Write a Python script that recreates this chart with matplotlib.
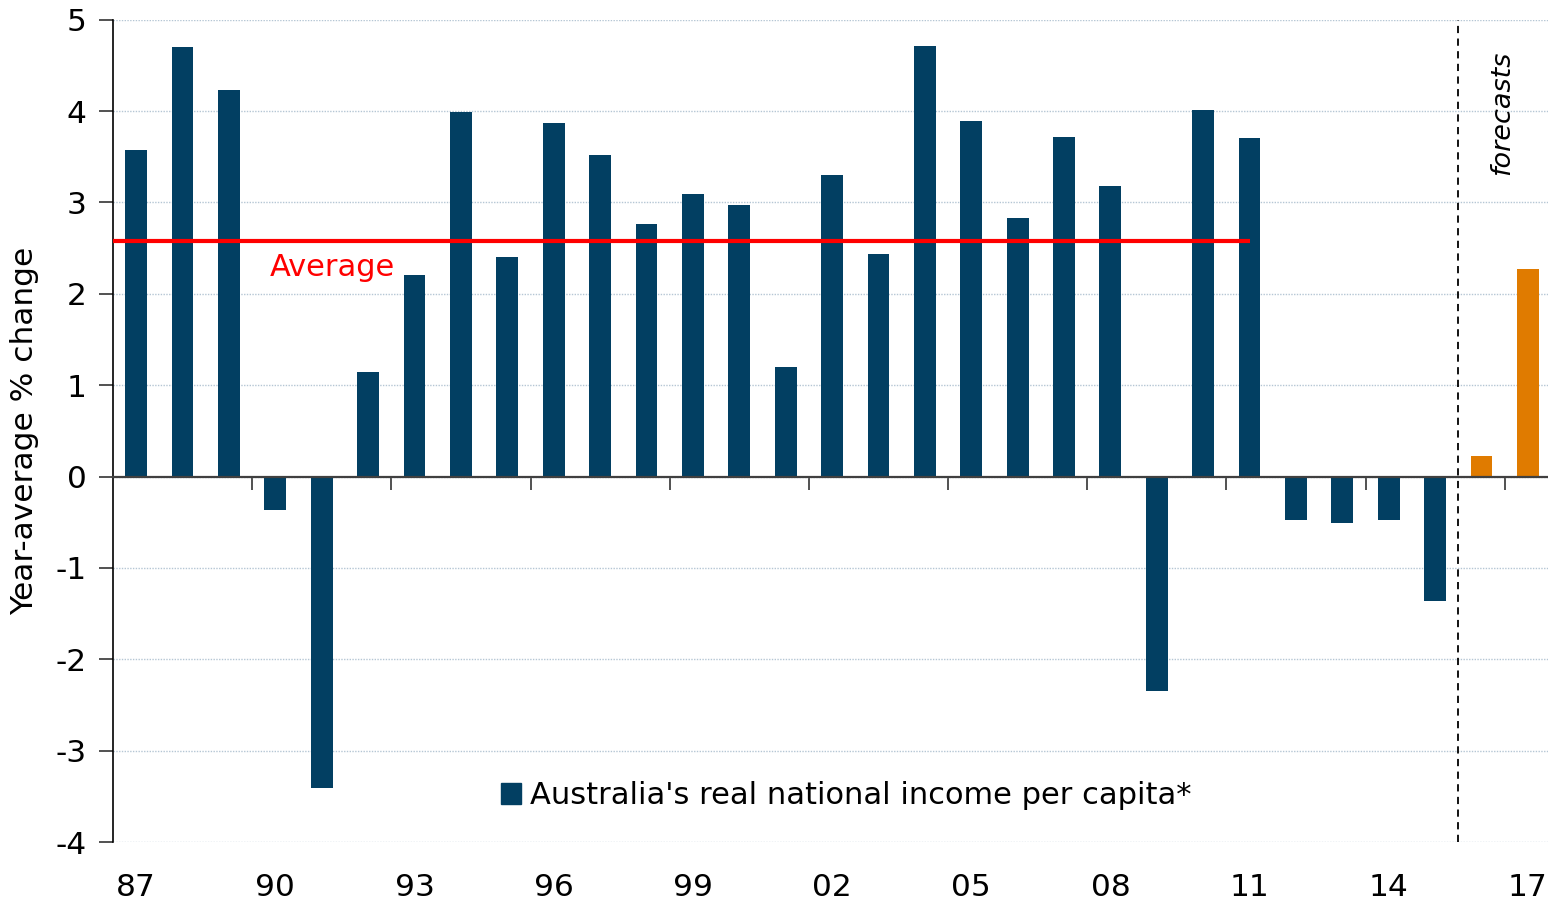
import matplotlib
matplotlib.use("Agg")
import matplotlib.pyplot as plt
import numpy as np
from matplotlib.patches import Patch

years = ["87", "88", "89", "90", "91", "92", "93", "94", "95", "96", "97", "98", "99", "00",
         "01", "02", "03", "04", "05", "06", "07", "08", "09", "10", "11", "12", "13", "14",
         "15", "16", "17"]
values = [3.58, 4.70, 4.23, -0.37, -3.41, 1.14, 2.21, 3.99, 2.40, 3.87, 3.52, 2.76, 3.09, 2.97,
          1.20, 3.30, 2.44, 4.71, 3.89, 2.83, 3.72, 3.18, -2.35, 4.01, 3.71, -0.47, -0.51, -0.48,
          -1.36, 0.23, 2.27]
is_forecast = [False] * 29 + [True, True]
average_value = 2.58
average_end_year = "11"
tick_label_years = ["87", "90", "93", "96", "99", "02", "05", "08", "11", "14", "17"]
y_ticks = [-4, -3, -2, -1, 0, 1, 2, 3, 4, 5]

NAVY = "#023F62"
ORANGE = "#E07B00"

plt.rcParams['font.family'] = ['DejaVu Sans']
fig = plt.figure(figsize=(15.48, 8.99), dpi=100)
ax = fig.add_axes([0.073, 0.0634, 0.929, 0.9146])

x = np.arange(len(years))
colors = [ORANGE if f else NAVY for f in is_forecast]
ax.bar(x, values, width=0.47, color=colors, zorder=3)

ax.set_xlim(-0.5, len(years) - 0.5)
ax.set_ylim(-4, 5)
ax.set_yticks(y_ticks)
ax.set_yticklabels([str(v) for v in y_ticks], fontsize=22.5)
ax.tick_params(axis='y', length=10, width=1.2, color='#333333', pad=9)
ax.yaxis.grid(True, linestyle=(0, (1, 1)), color='#b5c6d4', linewidth=1.0, zorder=0)

for s in ['top', 'right']:
    ax.spines[s].set_visible(False)
ax.spines['left'].set_linewidth(1.2)
ax.spines['bottom'].set_position(('data', 0))
ax.spines['bottom'].set_color('#404040')
ax.spines['bottom'].set_linewidth(1.6)
ax.spines['bottom'].set_zorder(4)

# ticks on the zero line between groups of three years
ax.set_xticks([])
ax.set_xticks(np.arange(2.5, len(years), 3), minor=True)
ax.tick_params(axis='x', which='minor', length=9, width=1.2, color='#333333', direction='out')

# labels along bottom
sec = ax.secondary_xaxis(-0.0)
sec.set_xticks([years.index(y) for y in tick_label_years])
sec.set_xticklabels(tick_label_years, fontsize=22.5)
sec.tick_params(length=0, pad=22)
sec.spines['bottom'].set_visible(False)

ax.set_ylabel("Year-average % change", fontsize=22.5, labelpad=12)

# average line
end = years.index(average_end_year)
ax.plot([-0.5, end], [average_value, average_value], color='#FF0000', linewidth=3, zorder=5,
        solid_capstyle='butt')
ax.text(2.88, average_value - 0.13, "Average", color='#FF0000', fontsize=22,
        ha='left', va='top', zorder=6)

# forecast divider
ax.axvline(len(years) - 2.5, color='black', linestyle=(0, (4, 3)), linewidth=1.3, zorder=4)
ax.text(29.45, 3.98, "forecasts", rotation=90, fontsize=19.5, style='italic',
        ha='center', va='center')

leg = ax.legend(handles=[Patch(color=NAVY, label="Australia's real national income per capita*")],
                loc='center', bbox_to_anchor=(0.51, 0.056), frameon=False, fontsize=22,
                handlelength=0.65, handleheight=0.7, handletextpad=0.3)

fig.savefig("out.png", dpi=100)
